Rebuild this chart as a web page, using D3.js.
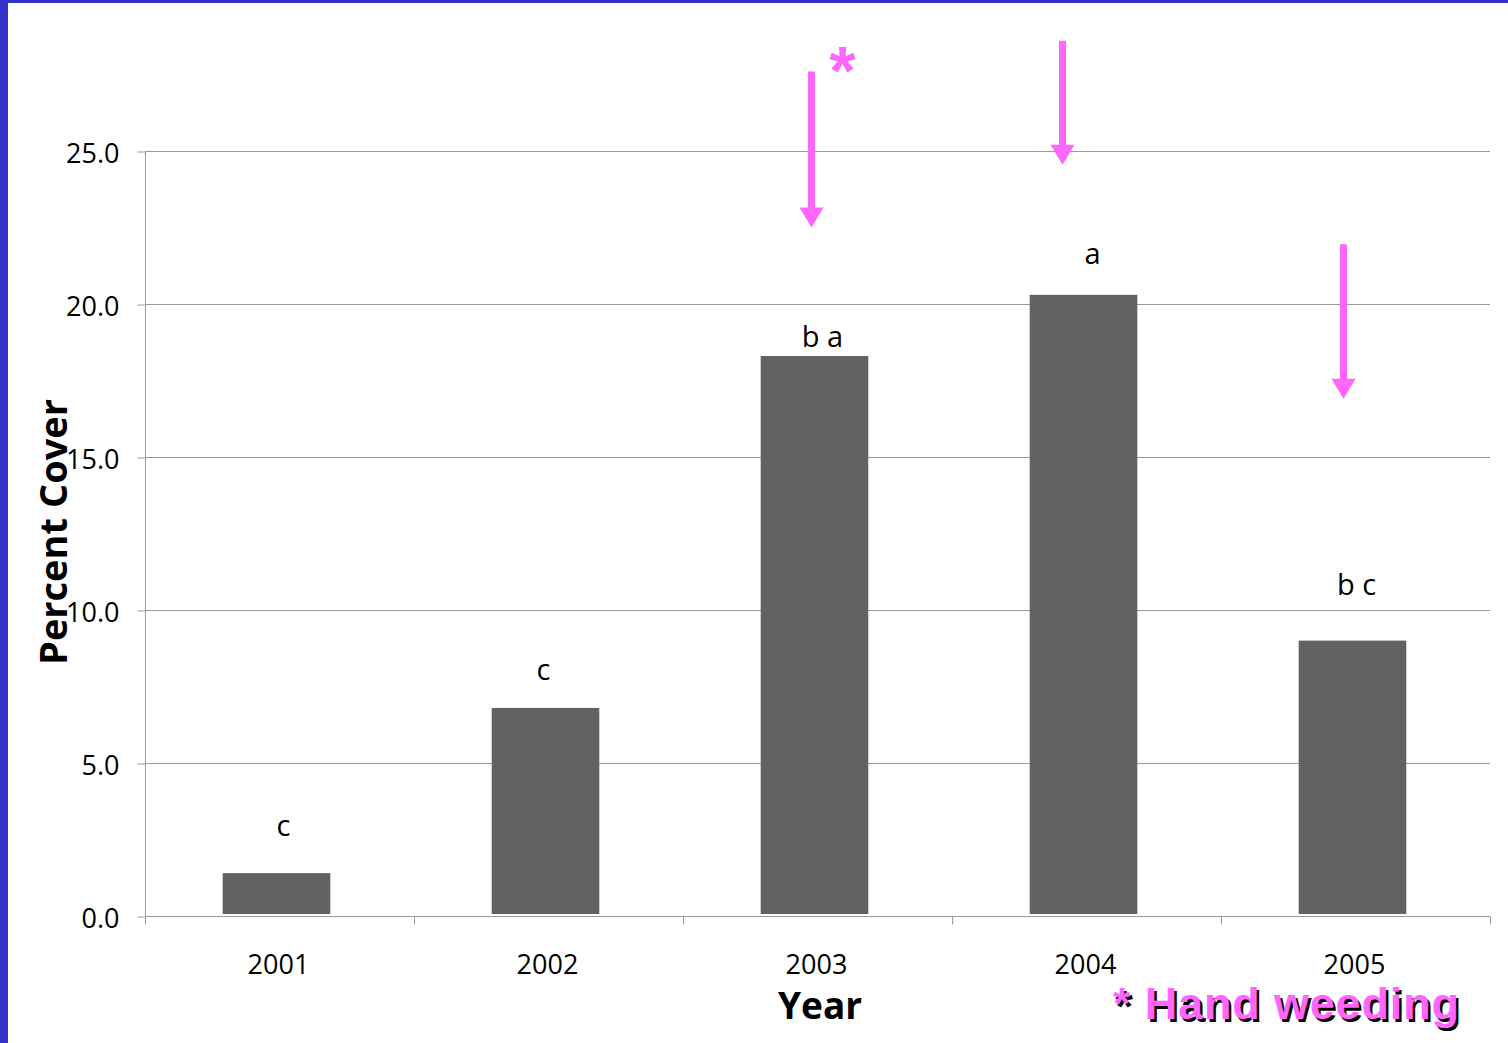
<!DOCTYPE html>
<html>
<head>
<meta charset="utf-8">
<script src="https://cdn.jsdelivr.net/npm/d3@7"></script>
<style>
  body { margin: 0; background: #fff; }
  svg { display: block; }
</style>
</head>
<body>
<div id="chart"></div>
<script>
// data
var years = ["2001", "2002", "2003", "2004", "2005"];
var cover = [1.4, 6.8, 18.3, 20.3, 9.0];
var letters = ["c", "c", "b a", "a", "b c"];
var letterAt = [2.6, 7.7, 18.6, 21.3, 10.5]; // baseline height of each letter, in percent
var yTicks = [0, 5, 10, 15, 20, 25];
// hand weeding arrows: year, top and tip in percent
var arrowYears = ["2003", "2004", "2005"];
var arrowTop = [27.6, 28.6, 21.95];
var arrowTip = [22.5, 24.55, 16.9];

// small hand placed nudges (px) as in the slide
var letterNudge = [4, -5, 5, 6, 1];
var arrowNudge = [-6, -24, -12];

var W = 1508, H = 1043;
var margin = { top: 151, right: 18, bottom: 127, left: 145 },
  width = W - margin.left - margin.right,
  height = H - margin.top - margin.bottom;

var pink = "#ff66ff";
var grey = "#9a9a9a";

var svg = d3.select("#chart").append("svg")
  .attr("width", W)
  .attr("height", H);

// slide frame
svg.append("rect").attr("x", 0).attr("y", 0).attr("width", W).attr("height", 3).attr("fill", "#3333cc");
svg.append("rect").attr("x", 0).attr("y", 0).attr("width", 8).attr("height", H).attr("fill", "#3333cc");

var g = svg.append("g")
  .attr("transform", "translate(" + margin.left + "," + margin.top + ")");

var x = d3.scaleBand().domain(years).range([0, width]).paddingInner(0).paddingOuter(0);
var y = d3.scaleLinear().domain([0, 25]).range([height, 0]);

// gridlines
g.append("g")
  .selectAll("line")
  .data(yTicks.slice(1))
  .enter()
  .append("line")
  .attr("x1", 0)
  .attr("x2", width)
  .attr("y1", function (d) { return y(d) + 0.5; })
  .attr("y2", function (d) { return y(d) + 0.5; })
  .attr("stroke", grey)
  .attr("stroke-width", 1);

// bars
var barW = x.bandwidth() * 0.4;
g.selectAll(".bar")
  .data(cover)
  .enter()
  .append("rect")
  .attr("class", "bar")
  .attr("x", function (d, i) { return x(years[i]) + (x.bandwidth() - barW) / 2 - 3; })
  .attr("width", barW)
  .attr("y", function (d) { return y(d); })
  .attr("height", function (d) { return y(0) - y(d) - 2; })
  .attr("fill", "#626262");

// y axis
var yAxis = g.append("g")
  .attr("transform", "translate(0.5,0)")
  .call(d3.axisLeft(y).tickValues(yTicks).tickFormat(d3.format(".1f")).tickSize(8).tickPadding(18));
yAxis.select(".domain").attr("stroke", grey).attr("d", "M0," + height + "V0");
yAxis.selectAll(".tick line").attr("stroke", grey).attr("transform", "translate(0,0.5)");
yAxis.selectAll("text")
  .attr("y", 3)
  .style("font-family", "'Open Sans', sans-serif")
  .style("font-size", "27px")
  .attr("fill", "#000");

// x axis: ticks at band edges
var xg = g.append("g").attr("transform", "translate(0," + (height + 0.5) + ")");
xg.append("line").attr("x1", 0).attr("x2", width).attr("stroke", grey);
xg.selectAll(".edge")
  .data(years.concat(["end"]))
  .enter()
  .append("line")
  .attr("class", "edge")
  .attr("x1", function (d, i) { return Math.round(i * x.bandwidth()) + 0.5; })
  .attr("x2", function (d, i) { return Math.round(i * x.bandwidth()) + 0.5; })
  .attr("y1", 0)
  .attr("y2", 8)
  .attr("stroke", grey);
xg.selectAll(".lbl")
  .data(years)
  .enter()
  .append("text")
  .attr("class", "lbl")
  .attr("x", function (d) { return x(d) + x.bandwidth() / 2 - 1; })
  .attr("y", 57)
  .attr("text-anchor", "middle")
  .style("font-family", "'Open Sans', sans-serif")
  .style("font-size", "27px")
  .text(function (d) { return d; });

// significance letters
g.selectAll(".letter")
  .data(letters)
  .enter()
  .append("text")
  .attr("class", "letter")
  .attr("x", function (d, i) { return x(years[i]) + x.bandwidth() / 2 + letterNudge[i]; })
  .attr("y", function (d, i) { return y(letterAt[i]); })
  .attr("text-anchor", "middle")
  .style("font-family", "'Open Sans', sans-serif")
  .style("font-size", "29px")
  .text(function (d) { return d; });

// axis titles
svg.append("text")
  .attr("transform", "translate(67,532) rotate(-90)")
  .attr("text-anchor", "middle")
  .style("font-family", "'Open Sans', sans-serif")
  .style("font-weight", "bold")
  .style("font-size", "38px")
  .text("Percent Cover");

svg.append("text")
  .attr("x", 820)
  .attr("y", 1019)
  .attr("text-anchor", "middle")
  .style("font-family", "'Open Sans', sans-serif")
  .style("font-weight", "bold")
  .style("font-size", "37px")
  .text("Year");

// arrows
var arrows = g.selectAll(".arrow")
  .data(arrowYears)
  .enter()
  .append("g")
  .attr("class", "arrow")
  .attr("transform", function (d, i) {
    return "translate(" + (x(d) + x.bandwidth() / 2 + arrowNudge[i]) + ",0)";
  });
arrows.append("line")
  .attr("x1", 0).attr("x2", 0)
  .attr("y1", function (d, i) { return y(arrowTop[i]); })
  .attr("y2", function (d, i) { return y(arrowTip[i]) - 15; })
  .attr("stroke", pink)
  .attr("stroke-width", 7);
arrows.append("path")
  .attr("d", function (d, i) {
    var t = y(arrowTip[i]);
    return "M-12," + (t - 20) + "L12," + (t - 20) + "L0," + t + "Z";
  })
  .attr("fill", pink);

// asterisk beside first arrow
g.append("text")
  .attr("x", x("2003") + x.bandwidth() / 2 + 25)
  .attr("y", y(26.85))
  .attr("text-anchor", "middle")
  .style("font-family", "'Liberation Sans', Arial, sans-serif")
  .style("font-weight", "bold")
  .style("font-size", "68px")
  .attr("fill", pink)
  .text("*");

// hand weeding note with shadow
[["#000", 2.5], [pink, 0]].forEach(function (s) {
  svg.append("text")
    .attr("x", 1113 + s[1])
    .attr("y", 1019 + s[1])
    .attr("textLength", 346)
    .attr("lengthAdjust", "spacing")
    .style("font-family", "'Liberation Sans', Arial, sans-serif")
    .style("font-weight", "bold")
    .style("font-size", "45px")
    .attr("fill", s[0])
    .text("* Hand weeding");
});
</script>
</body>
</html>
